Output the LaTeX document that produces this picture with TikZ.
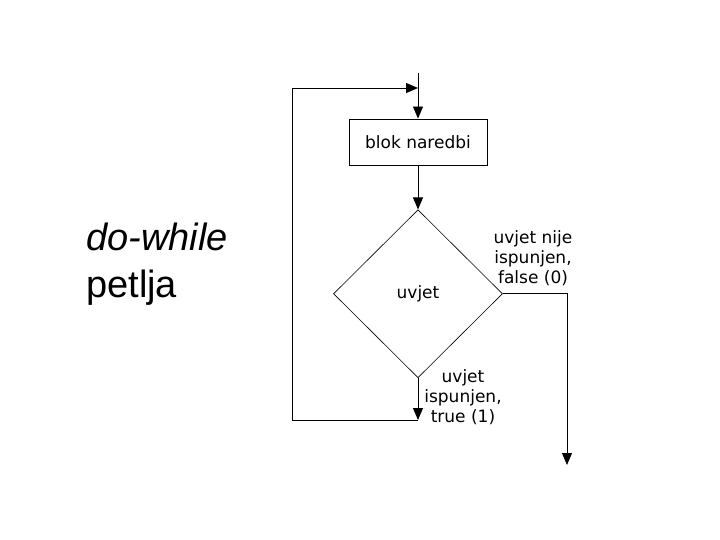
\documentclass[tikz,border=0pt]{standalone}
\usepackage{fontspec}
\setmainfont{DejaVu Sans}
\newfontfamily\naslovfont{Liberation Sans}
\usetikzlibrary{shapes.geometric,arrows.meta,positioning}

\begin{document}
\begin{tikzpicture}[
  x=1pt, y=-1pt,
  box/.style={draw, line width=0.9pt, minimum width=138pt, minimum height=46pt, inner sep=0pt, font=\fontsize{17}{20}\selectfont},
  cond/.style={draw, diamond, line width=0.6pt, minimum width=169pt, minimum height=168pt, inner sep=0pt, font=\fontsize{17}{20}\selectfont},
  lbl/.style={align=center, inner sep=0pt, font=\fontsize{17}{20}\selectfont},
  tok/.style={line width=0.9pt, -{Triangle[length=12pt,width=10pt]}},
  node distance=44pt
]
\useasboundingbox (0,0) rectangle (720,540);
\node[anchor=north west, align=left, inner sep=0pt, font=\naslovfont\fontsize{38}{47}\selectfont] (naslov) at (86,223) {\textit{do-while}\\petlja};
\node[box] (blok) at (418,142) {blok naredbi};
\node[cond, below=of blok] (uvjet) {uvjet};
\node[lbl] (laz) at (533,258) {uvjet nije\\ispunjen,\\false (0)};
\node[lbl] (ist) at (463,397) {uvjet\\ispunjen,\\true (1)};
\coordinate (ulaz) at (418,73);
\coordinate (povrat) at (418,88);
\coordinate (dno) at (418,420);
\coordinate (lijevo) at (292,420);
\coordinate (izlaz) at (567,465);
\draw[tok] (ulaz) -- (blok.north);
\draw[tok] (blok) -- (uvjet);
\draw[tok] (uvjet.south) -- (dno);
\draw[tok] (dno) -- (lijevo) |- (povrat);
\draw[tok] (uvjet.east) -| (izlaz);
\end{tikzpicture}
\end{document}
